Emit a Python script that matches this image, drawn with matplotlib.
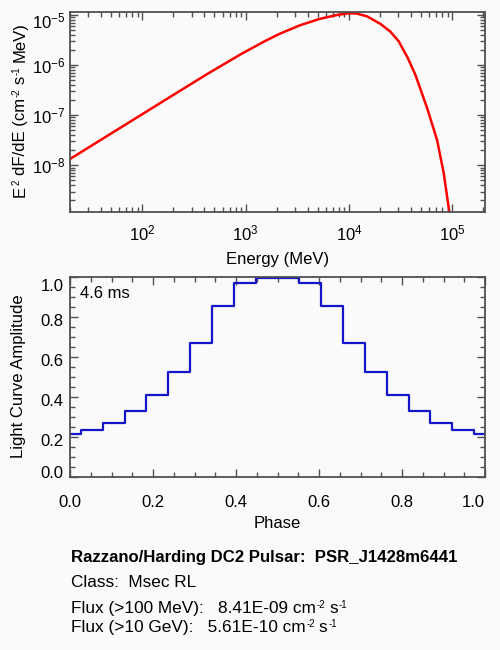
import numpy as np
import matplotlib
matplotlib.use('Agg')
import matplotlib.pyplot as plt
from matplotlib.ticker import MultipleLocator, LogLocator, NullFormatter
from matplotlib.transforms import ScaledTranslation

plt.rcParams['font.family'] = ['Liberation Sans', 'DejaVu Sans']
plt.rcParams['mathtext.fontset'] = 'custom'
plt.rcParams['mathtext.rm'] = 'Liberation Sans'
plt.rcParams['mathtext.it'] = 'Liberation Sans:italic'
plt.rcParams['mathtext.bf'] = 'Liberation Sans:bold'
plt.rcParams['mathtext.default'] = 'regular'

# ---- data ----
energy = [20, 222, 437, 918, 1545, 2158, 3373, 5272, 7656, 9572, 10700, 11970,
          14960, 20140, 25180, 30270, 36980, 43850, 57020, 71290, 82600, 92260, 94400]
e2dfde = [1.337e-8, 2.897e-7, 6.84e-7, 1.683e-6, 3.013e-6, 4.236e-6, 6.22e-6, 8.36e-6,
          9.93e-6, 1.067e-5, 1.076e-5, 1.059e-5, 9.33e-6, 6.61e-6, 4.62e-6, 2.97e-6,
          1.396e-6, 6.41e-7, 1.39e-7, 3.16e-8, 6.92e-9, 1.41e-9, 1.0e-9]

phase = [0.0, 0.0526, 0.1053, 0.1579, 0.2105, 0.2632, 0.3158, 0.3684, 0.4211, 0.4737,
         0.5263, 0.5789, 0.6316, 0.6842, 0.7368, 0.7895, 0.8421, 0.8947, 0.9474, 1.0]
amplitude = [0.217, 0.237, 0.272, 0.333, 0.413, 0.527, 0.673, 0.857, 0.973, 0.995,
             0.995, 0.973, 0.857, 0.673, 0.527, 0.413, 0.333, 0.272, 0.237, 0.217]

period_label = '4.6 ms'
title_line = 'Razzano/Harding DC2 Pulsar:  PSR_J1428m6441'
class_line = 'Class:  Msec RL'
flux100_text = 'Flux (>100 MeV):   8.41E-09 cm'
flux10g_text = 'Flux (>10 GeV):   5.61E-10 cm'
sup_cm = '-2'
sup_s = '-1'

# ---- figure ----
W, H = 500, 650
bg = '#fafafa'
frame = '#505050'
FS = 12
INFO_FS = 12.4
TITLE_FS = 12.1
SUP_FS = 7
fig = plt.figure(figsize=(W / 100, H / 100), dpi=100, facecolor=bg)
renderer = fig.canvas.get_renderer()

def px_axes(l, t, r, b):
    return [l / W, 1 - b / H, (r - l) / W, (b - t) / H]

ax1 = fig.add_axes(px_axes(70, 12, 485, 211.7))
ax2 = fig.add_axes(px_axes(70, 277.3, 485, 477.3))

for ax in (ax1, ax2):
    ax.set_facecolor(bg)
    for s in ax.spines.values():
        s.set_color(frame)
        s.set_linewidth(1.3)
    ax.tick_params(which='both', direction='in', top=True, right=True,
                   color=frame, labelsize=FS, labelcolor='black')
    ax.tick_params(which='major', length=5.8, width=1.0)
    ax.tick_params(which='minor', length=3.3, width=1.0)

# top: spectrum
ax1.plot(energy, e2dfde, color='#ff0000', lw=1.8, solid_joinstyle='round')
ax1.set_xscale('log')
ax1.set_yscale('log')
ax1.set_xlim(20, 2.07e5)
ax1.set_ylim(1.19e-9, 1.14e-5)
ax1.xaxis.set_minor_locator(LogLocator(base=10, subs=np.arange(2, 10)))
ax1.yaxis.set_minor_locator(LogLocator(base=10, subs=np.arange(2, 10)))
ax1.xaxis.set_minor_formatter(NullFormatter())
ax1.yaxis.set_minor_formatter(NullFormatter())
ax1.tick_params(axis='x', pad=8.5)
ax1.tick_params(axis='y', pad=3.5)
ax1.set_xlabel('Energy (MeV)', fontsize=FS, labelpad=6.3)

# bottom: light curve
ax2.step(phase, amplitude, where='mid', color='#1414c8', lw=1.6)
ax2.set_xlim(0, 1)
ax2.set_ylim(0, 1)
ax2.xaxis.set_major_locator(MultipleLocator(0.2))
ax2.yaxis.set_major_locator(MultipleLocator(0.2))
ax2.xaxis.set_minor_locator(MultipleLocator(0.05))
ax2.yaxis.set_minor_locator(MultipleLocator(0.05))
ax2.xaxis.set_major_formatter(plt.FuncFormatter(lambda v, p: f'{v:.1f}'))
ax2.yaxis.set_major_formatter(plt.FuncFormatter(lambda v, p: f'{v:.1f}'))
ax2.tick_params(axis='x', pad=12.5)
ax2.tick_params(axis='y', pad=4.8)
ax2.set_xlabel('Phase', fontsize=FS, labelpad=4.9)
ax2.text(0.024, 0.92, period_label, transform=ax2.transAxes, fontsize=FS,
         ha='left', va='center')


def rich(x_px, y_px, parts, vertical=False, size=FS, weight='normal'):
    """parts: (text, gap_px, is_superscript). x_px, y_px: start of baseline (top-left origin)."""
    pos = x_px if not vertical else (H - y_px)
    for text, gap, sup in parts:
        pos += gap
        fs = SUP_FS if sup else size
        raise_px = 5.0 if sup else 0.0
        if not vertical:
            t = fig.text(pos / W, (H - y_px + raise_px) / H, text, fontsize=fs,
                         ha='left', va='baseline', fontweight=weight)
            pos = t.get_window_extent(renderer).x1
        else:
            t = fig.text((x_px - raise_px) / W, pos / H, text, fontsize=fs,
                         ha='left', va='baseline', rotation=90, rotation_mode='anchor',
                         fontweight=weight)
            pos = t.get_window_extent(renderer).y1


# y labels
rich(24.5, 197, [('E', 0, False), ('2', 1, True), ('dF/dE (cm', 4.5, False),
                 (sup_cm, 1, True), ('s', 4, False), (sup_s, 1, True),
                 ('MeV)', 4.5, False)], vertical=True)
fig.text(18.5 / W, 1 - 376.5 / H, 'Light Curve Amplitude', rotation=90,
         ha='center', va='center', fontsize=FS)

# info text
fig.text(70.7 / W, 1 - 562.3 / H, title_line, fontsize=TITLE_FS, fontweight='bold',
         ha='left', va='baseline')
fig.text(70.7 / W, 1 - 587.3 / H, class_line, fontsize=INFO_FS, ha='left', va='baseline')
rich(70.7, 613.3, [(flux100_text, 0, False), (sup_cm, 1, True), ('s', 4, False),
                   (sup_s, 1, True)], size=INFO_FS)
rich(70.7, 631.7, [(flux10g_text, 0, False), (sup_cm, 1, True), ('s', 4, False),
                   (sup_s, 1, True)], size=INFO_FS)

# IDL-like shifting of edge tick labels
fig.canvas.draw()
def shift(lab, dx, dy):
    lab.set_transform(lab.get_transform() + ScaledTranslation(dx / 100, dy / 100, fig.dpi_scale_trans))

for lab in ax2.get_yticklabels():
    t = lab.get_text()
    dy = -2.7
    if t == '1.0':
        dy = -7.7
    elif t == '0.0':
        dy = 5.7
    shift(lab, 0, dy)
for lab in ax2.get_xticklabels():
    if lab.get_text() == '1.0':
        shift(lab, -11.5, 0)
for val, lab in zip(ax1.get_yticks(), ax1.get_yticklabels()):
    if abs(np.log10(val) + 5) < 1e-6:
        shift(lab, 0, -5)

fig.savefig('out.png', dpi=100, facecolor=bg)
